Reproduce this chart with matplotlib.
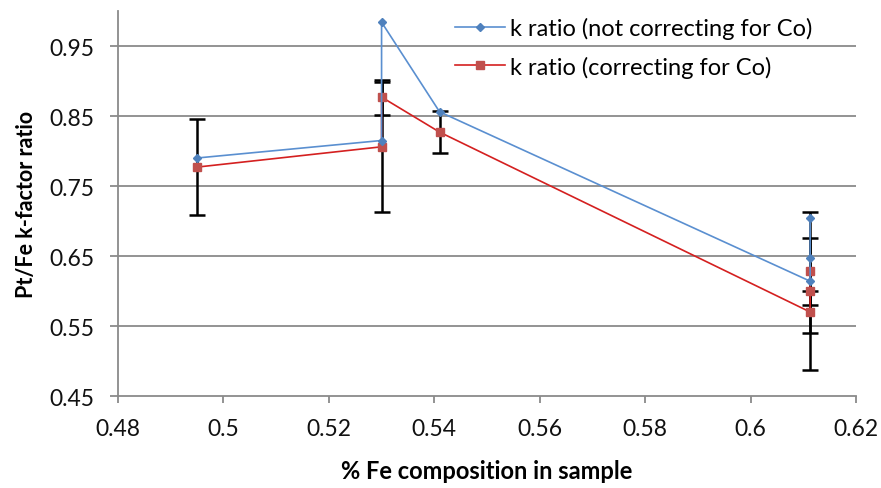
"""k-factor ratio vs Fe composition, Excel-style line chart with error bars."""

import matplotlib

matplotlib.use("Agg")
import matplotlib.pyplot as plt
from matplotlib.ticker import FixedLocator, FuncFormatter

# data
fe_comp = [0.495, 0.530, 0.530, 0.541, 0.6113, 0.6113, 0.6113]
k_not_corr = [0.790, 0.815, 0.984, 0.856, 0.614, 0.647, 0.705]
k_corr = [0.777, 0.806, 0.877, 0.827, 0.570, 0.600, 0.628]
k_corr_err = [0.069, 0.093, 0.025, 0.030, 0.0295, 0.1125, 0.048]

x_ticks = [0.48, 0.50, 0.52, 0.54, 0.56, 0.58, 0.60, 0.62]
y_ticks = [0.45, 0.55, 0.65, 0.75, 0.85, 0.95]

label_not_corr = "k ratio (not correcting for Co)"
label_corr = "k ratio (correcting for Co)"

BLUE_LINE = "#5a8fd0"
BLUE_MARK = "#4f81bd"
RED_LINE = "#d42020"
RED_MARK = "#c0504d"
GRID = "#8a8a8a"
FONT = ["Lato", "DejaVu Sans"]
TICK_FS = 16.5
LEGEND_FS = 17

plt.rcParams["font.family"] = FONT

W, H = 881, 489
fig = plt.figure(figsize=(W / 100, H / 100), dpi=100)
ax = fig.add_axes([118 / W, 1 - 397 / H, (856 - 118) / W, (397 - 12) / H])

# error bars sit under the series lines
ax.errorbar(fe_comp, k_corr, yerr=k_corr_err, fmt="none", ecolor="black",
            elinewidth=1.8, capsize=6, capthick=1.8, zorder=2)

ax.plot(fe_comp, k_not_corr, color=BLUE_LINE, lw=1.2, marker="D", ms=4.2,
        mfc=BLUE_MARK, mec=BLUE_MARK, label=label_not_corr, zorder=4)
ax.plot(fe_comp, k_corr, color=RED_LINE, lw=1.2, marker="s", ms=5.2,
        mfc=RED_MARK, mec=RED_MARK, label=label_corr, zorder=3)

ax.set_xlim(0.48, 0.62)
ax.set_ylim(0.45, 1.0)
ax.xaxis.set_major_locator(FixedLocator(x_ticks))
ax.yaxis.set_major_locator(FixedLocator(y_ticks))
ax.xaxis.set_major_formatter(FuncFormatter(lambda v, _: f"{v:.2f}".rstrip("0")))
ax.yaxis.set_major_formatter(FuncFormatter(lambda v, _: f"{v:.2f}"))

for yv in y_ticks[1:]:
    ax.axhline(yv, color=GRID, lw=1.3, zorder=1)

for side in ("top", "right"):
    ax.spines[side].set_visible(False)
for side in ("left", "bottom"):
    ax.spines[side].set_color(GRID)
    ax.spines[side].set_linewidth(1.3)

ax.tick_params(axis="both", direction="out", color=GRID, width=1.3,
               labelsize=TICK_FS, labelcolor="#111111")
ax.tick_params(axis="y", length=6, pad=11)
ax.tick_params(axis="x", length=5, pad=11)

ax.set_xlabel("% Fe composition in sample", fontsize=17,
              fontweight="bold", labelpad=14)
ax.set_ylabel("Pt/Fe k-factor ratio", fontsize=15.5, fontweight="bold",
              labelpad=9)

ax.legend(loc="upper left", bbox_to_anchor=(455 / W, 1 - 18 / H),
          bbox_transform=fig.transFigure, frameon=False, fontsize=LEGEND_FS,
          handlelength=2.1, handletextpad=0.25, labelspacing=0.7,
          borderpad=0, borderaxespad=0)

fig.savefig("out.png", dpi=100, facecolor="white")
